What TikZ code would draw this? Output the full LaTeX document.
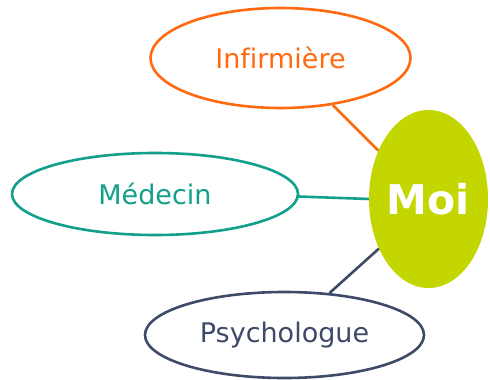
\documentclass[tikz,border=0pt]{standalone}
\usepackage{fontspec}
\setmainfont[Ligatures=NoCommon]{DejaVu Sans}
\usetikzlibrary{shapes.geometric}
\definecolor{orng}{HTML}{FF6A10}
\definecolor{teal2}{HTML}{12A08A}
\definecolor{slate}{HTML}{3D4A68}
\definecolor{lime}{HTML}{C4D600}
\tikzset{
  bubble/.style={ellipse, draw, line width=2.6pt, inner sep=0pt, fill=white, font=\fontsize{27}{32}\selectfont},
  link/.style={line width=2.6pt},
}
\begin{document}
\begin{tikzpicture}[x=1pt,y=-1pt]
\useasboundingbox (0,0) rectangle (490,380);
\node[bubble, draw=orng, text=orng, minimum width=260pt, minimum height=100pt] (inf) at (280.5,58) {Infirmière};
\node[bubble, draw=teal2, text=teal2, minimum width=286pt, minimum height=82pt] (med) at (155,194) {Médecin};
\node[bubble, draw=slate, text=slate, minimum width=279pt, minimum height=86pt] (psy) at (284.5,335) {Psychologue};
\node[ellipse, fill=lime, inner sep=0pt, minimum width=119pt, minimum height=178pt, text=white, font=\fontsize{41}{48}\selectfont\bfseries] (moi) at (428.5,199) {Moi};
\draw[link, orng] (inf.-42.4) -- (moi.136.4);
\draw[link, teal2] (med.-1) -- (moi.180);
\draw[link, slate] (psy.43.4) -- (moi.-135.9);
\end{tikzpicture}
\end{document}
